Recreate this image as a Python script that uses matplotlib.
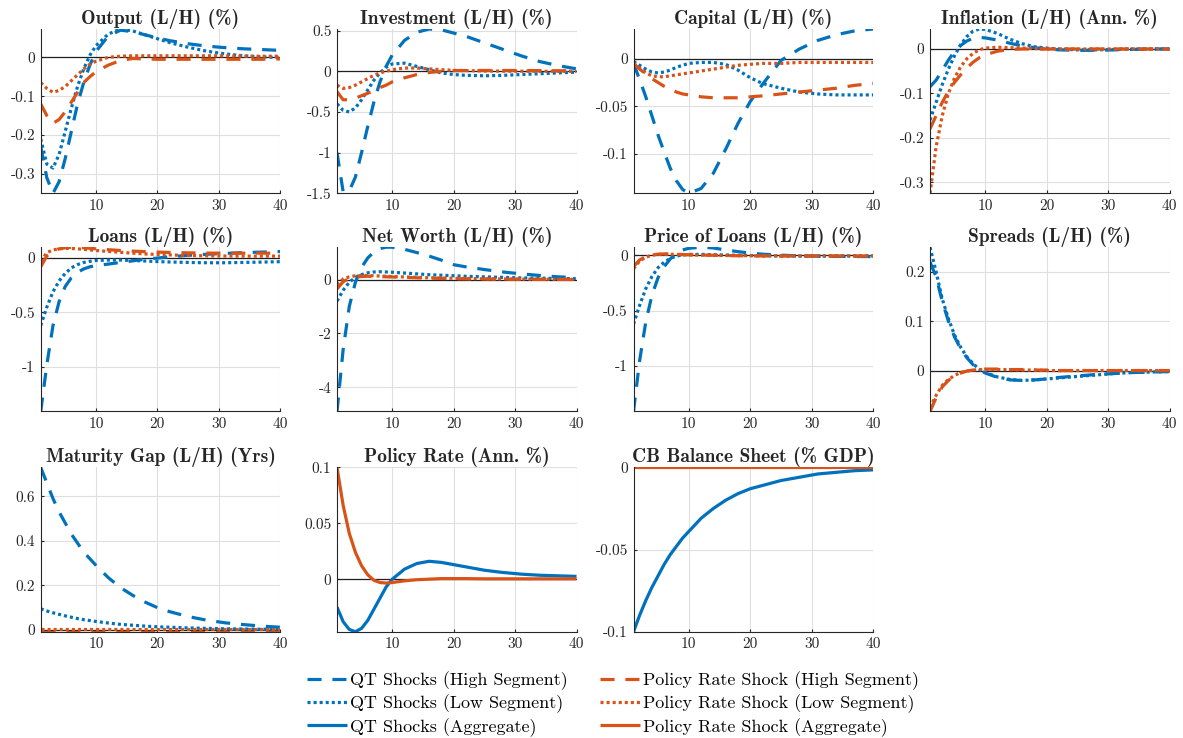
import numpy as np
import matplotlib
matplotlib.use("Agg")
import matplotlib.pyplot as plt
from matplotlib.ticker import FuncFormatter

# quarters after the shock (sampled)
t = [1, 2, 3, 4, 5, 6, 7, 8, 9, 10, 12, 14, 16, 18, 20, 22, 25, 28, 31, 34, 37, 40]

# Output (L/H) (%)
output_qt_high = [-0.23, -0.31, -0.35, -0.32, -0.26, -0.19, -0.12, -0.065, -0.02, 0.015, 0.055, 0.07, 0.066, 0.058, 0.05, 0.043, 0.035, 0.029, 0.025, 0.022, 0.02, 0.018]
output_qt_low = [-0.21, -0.275, -0.285, -0.25, -0.19, -0.13, -0.075, -0.03, 0.005, 0.03, 0.06, 0.073, 0.068, 0.058, 0.048, 0.038, 0.026, 0.016, 0.009, 0.004, 0.001, 0.0]
output_pr_high = [-0.12, -0.15, -0.17, -0.16, -0.14, -0.115, -0.09, -0.065, -0.05, -0.037, -0.02, -0.008, -0.003, -0.004, -0.005, -0.005, -0.005, -0.005, -0.005, -0.005, -0.005, -0.004]
output_pr_low = [-0.065, -0.08, -0.09, -0.085, -0.075, -0.06, -0.045, -0.03, -0.018, -0.01, 0.0, 0.003, 0.004, 0.004, 0.004, 0.004, 0.004, 0.004, 0.004, 0.003, 0.003, 0.003]

# Investment (L/H) (%)
inv_qt_high = [-1.0, -1.48, -1.47, -1.3, -1.0, -0.68, -0.38, -0.13, 0.06, 0.2, 0.38, 0.48, 0.52, 0.51, 0.47, 0.43, 0.35, 0.27, 0.19, 0.12, 0.07, 0.03]
inv_qt_low = [-0.4, -0.48, -0.5, -0.45, -0.35, -0.23, -0.11, -0.02, 0.05, 0.09, 0.1, 0.06, 0.02, -0.02, -0.04, -0.05, -0.055, -0.05, -0.04, -0.03, -0.02, -0.01]
inv_pr_high = [-0.25, -0.35, -0.35, -0.33, -0.3, -0.27, -0.24, -0.2, -0.17, -0.13, -0.08, -0.04, -0.015, 0.0, 0.008, 0.01, 0.01, 0.01, 0.01, 0.008, 0.007, 0.005]
inv_pr_low = [-0.17, -0.21, -0.2, -0.17, -0.13, -0.09, -0.05, -0.02, 0.0, 0.02, 0.04, 0.04, 0.03, 0.02, 0.012, 0.008, 0.004, 0.002, 0.001, 0.0, 0.0, 0.0]

# Capital (L/H) (%)
cap_qt_high = [-0.005, -0.022, -0.04, -0.06, -0.08, -0.098, -0.115, -0.128, -0.137, -0.141, -0.136, -0.12, -0.095, -0.068, -0.045, -0.027, -0.002, 0.01, 0.019, 0.025, 0.029, 0.031]
cap_qt_low = [-0.003, -0.007, -0.011, -0.014, -0.015, -0.014, -0.012, -0.009, -0.007, -0.005, -0.004, -0.004, -0.006, -0.012, -0.02, -0.026, -0.031, -0.035, -0.037, -0.038, -0.038, -0.038]
cap_pr_high = [-0.005, -0.011, -0.016, -0.021, -0.025, -0.029, -0.032, -0.035, -0.037, -0.038, -0.04, -0.041, -0.041, -0.041, -0.04, -0.039, -0.037, -0.035, -0.033, -0.031, -0.028, -0.026]
cap_pr_low = [-0.005, -0.01, -0.015, -0.018, -0.019, -0.019, -0.018, -0.017, -0.016, -0.015, -0.013, -0.011, -0.009, -0.007, -0.006, -0.005, -0.005, -0.004, -0.004, -0.004, -0.004, -0.004]

# Inflation (L/H) (Ann. %)
infl_qt_high = [-0.085, -0.07, -0.048, -0.025, -0.005, 0.008, 0.018, 0.024, 0.026, 0.025, 0.02, 0.013, 0.007, 0.003, 0.0, -0.002, -0.003, -0.003, -0.002, -0.001, 0.0, 0.0]
infl_qt_low = [-0.16, -0.12, -0.08, -0.045, -0.015, 0.01, 0.028, 0.04, 0.045, 0.044, 0.035, 0.022, 0.012, 0.005, 0.002, 0.0, -0.002, -0.002, -0.001, 0.0, 0.0, 0.0]
infl_pr_high = [-0.18, -0.15, -0.12, -0.095, -0.075, -0.058, -0.043, -0.03, -0.02, -0.013, -0.005, -0.001, 0.0, 0.0, 0.0, 0.0, 0.0, 0.0, 0.0, 0.0, 0.0, 0.0]
infl_pr_low = [-0.325, -0.22, -0.15, -0.1, -0.065, -0.04, -0.022, -0.01, -0.002, 0.002, 0.004, 0.003, 0.002, 0.001, 0.0, 0.0, 0.0, 0.0, 0.0, 0.0, 0.0, 0.0]

# Loans (L/H) (%)
loans_qt_high = [-1.41, -0.98, -0.62, -0.4, -0.26, -0.18, -0.13, -0.1, -0.08, -0.07, -0.055, -0.04, -0.025, -0.01, 0.0, 0.012, 0.025, 0.035, 0.043, 0.05, 0.055, 0.06]
loans_qt_low = [-0.62, -0.45, -0.31, -0.21, -0.14, -0.09, -0.06, -0.04, -0.03, -0.022, -0.018, -0.018, -0.022, -0.027, -0.032, -0.036, -0.04, -0.043, -0.043, -0.04, -0.037, -0.033]
loans_pr_high = [-0.08, 0.02, 0.065, 0.085, 0.095, 0.1, 0.098, 0.095, 0.09, 0.085, 0.077, 0.07, 0.064, 0.059, 0.055, 0.052, 0.048, 0.046, 0.045, 0.045, 0.045, 0.045]
loans_pr_low = [-0.03, 0.05, 0.075, 0.085, 0.09, 0.088, 0.085, 0.08, 0.075, 0.07, 0.061, 0.053, 0.045, 0.038, 0.033, 0.029, 0.024, 0.021, 0.019, 0.018, 0.018, 0.018]

# Net Worth (L/H) (%)
nw_qt_high = [-4.9, -2.6, -1.0, -0.1, 0.45, 0.8, 1.02, 1.15, 1.2, 1.2, 1.12, 1.0, 0.87, 0.72, 0.55, 0.47, 0.37, 0.28, 0.21, 0.15, 0.1, 0.07]
nw_qt_low = [-0.8, -0.4, -0.1, 0.08, 0.18, 0.25, 0.28, 0.29, 0.28, 0.27, 0.24, 0.21, 0.18, 0.16, 0.14, 0.12, 0.1, 0.08, 0.06, 0.05, 0.04, 0.03]
nw_pr_high = [-0.35, -0.08, 0.04, 0.09, 0.11, 0.12, 0.12, 0.11, 0.1, 0.095, 0.08, 0.065, 0.05, 0.04, 0.03, 0.025, 0.018, 0.012, 0.008, 0.005, 0.003, 0.002]
nw_pr_low = [-0.2, 0.02, 0.1, 0.14, 0.15, 0.15, 0.14, 0.13, 0.12, 0.11, 0.095, 0.08, 0.066, 0.055, 0.045, 0.038, 0.03, 0.022, 0.016, 0.012, 0.009, 0.006]

# Price of Loans (L/H) (%)
pl_qt_high = [-1.41, -0.95, -0.6, -0.36, -0.2, -0.1, -0.03, 0.02, 0.05, 0.065, 0.075, 0.068, 0.05, 0.035, 0.022, 0.012, 0.003, -0.003, -0.006, -0.008, -0.009, -0.01]
pl_qt_low = [-0.62, -0.45, -0.3, -0.19, -0.11, -0.06, -0.025, -0.005, 0.005, 0.01, 0.01, 0.007, 0.004, 0.002, 0.0, -0.002, -0.004, -0.005, -0.005, -0.005, -0.005, -0.005]
pl_pr_high = [-0.1, -0.04, -0.01, 0.005, 0.012, 0.014, 0.013, 0.011, 0.009, 0.007, 0.004, 0.002, 0.0, -0.002, -0.003, -0.004, -0.005, -0.005, -0.005, -0.005, -0.005, -0.005]
pl_pr_low = [-0.12, -0.05, -0.015, 0.003, 0.01, 0.012, 0.011, 0.01, 0.008, 0.006, 0.003, 0.001, 0.0, -0.001, -0.002, -0.003, -0.003, -0.003, -0.003, -0.003, -0.003, -0.003]

# Spreads (L/H) (%)
spr_qt_high = [0.22, 0.19, 0.14, 0.1, 0.068, 0.044, 0.026, 0.012, 0.002, -0.005, -0.014, -0.019, -0.02, -0.019, -0.017, -0.014, -0.011, -0.008, -0.006, -0.004, -0.003, -0.002]
spr_qt_low = [0.25, 0.2, 0.145, 0.105, 0.072, 0.047, 0.028, 0.014, 0.003, -0.004, -0.013, -0.018, -0.02, -0.019, -0.017, -0.015, -0.012, -0.009, -0.006, -0.004, -0.003, -0.002]
spr_pr_high = [-0.083, -0.055, -0.033, -0.02, -0.011, -0.005, -0.001, 0.001, 0.002, 0.003, 0.003, 0.002, 0.002, 0.001, 0.001, 0.0, 0.0, 0.0, 0.0, 0.0, 0.0, 0.0]
spr_pr_low = [-0.075, -0.05, -0.03, -0.018, -0.01, -0.004, -0.001, 0.001, 0.002, 0.002, 0.002, 0.002, 0.001, 0.001, 0.0, 0.0, 0.0, 0.0, 0.0, 0.0, 0.0, 0.0]

# Maturity Gap (L/H) (Yrs)
mg_qt_high = [0.73, 0.66, 0.59, 0.53, 0.48, 0.43, 0.39, 0.35, 0.32, 0.29, 0.235, 0.19, 0.155, 0.125, 0.1, 0.082, 0.06, 0.044, 0.032, 0.024, 0.017, 0.012]
mg_qt_low = [0.095, 0.085, 0.077, 0.07, 0.063, 0.057, 0.051, 0.046, 0.042, 0.038, 0.031, 0.025, 0.021, 0.017, 0.014, 0.012, 0.009, 0.007, 0.005, 0.004, 0.003, 0.003]
mg_pr_high = [-0.008, -0.008, -0.008, -0.008, -0.008, -0.008, -0.008, -0.008, -0.008, -0.008, -0.008, -0.008, -0.008, -0.008, -0.008, -0.008, -0.008, -0.008, -0.008, -0.008, -0.008, -0.008]
mg_pr_low = [0.006, 0.006, 0.006, 0.006, 0.006, 0.006, 0.006, 0.006, 0.006, 0.006, 0.006, 0.006, 0.006, 0.006, 0.006, 0.006, 0.006, 0.006, 0.006, 0.006, 0.006, 0.006]

# Policy Rate (Ann. %)
pol_qt_agg = [-0.025, -0.038, -0.045, -0.047, -0.044, -0.037, -0.027, -0.017, -0.007, 0.0, 0.009, 0.014, 0.016, 0.015, 0.013, 0.011, 0.008, 0.006, 0.0045, 0.0035, 0.003, 0.0025]
pol_pr_agg = [0.1, 0.066, 0.041, 0.024, 0.012, 0.004, -0.001, -0.003, -0.0035, -0.003, -0.0015, -0.0005, 0.0, 0.0005, 0.0005, 0.0005, 0.0003, 0.0003, 0.0003, 0.0003, 0.0003, 0.0003]

# CB Balance Sheet (% GDP)
cb_qt_agg = [-0.1, -0.09, -0.081, -0.073, -0.066, -0.059, -0.053, -0.048, -0.043, -0.039, -0.031, -0.025, -0.02, -0.016, -0.013, -0.011, -0.008, -0.006, -0.004, -0.003, -0.002, -0.0015]
cb_pr_agg = [0.0] * len(t)

titles = ["Output (L/H) (%)", "Investment (L/H) (%)", "Capital (L/H) (%)", "Inflation (L/H) (Ann. %)",
          "Loans (L/H) (%)", "Net Worth (L/H) (%)", "Price of Loans (L/H) (%)", "Spreads (L/H) (%)",
          "Maturity Gap (L/H) (Yrs)", "Policy Rate (Ann. %)", "CB Balance Sheet (% GDP)"]

yticks = [[-0.3, -0.2, -0.1, 0], [-1.5, -1, -0.5, 0, 0.5], [-0.1, -0.05, 0], [-0.3, -0.2, -0.1, 0],
          [-1, -0.5, 0], [-4, -2, 0], [-1, -0.5, 0], [0, 0.1, 0.2],
          [0, 0.2, 0.4, 0.6], [0, 0.05, 0.1], [-0.1, -0.05, 0]]

# (qt_high, qt_low, qt_agg, pr_high, pr_low, pr_agg) per panel; None = not drawn
series = [
    (output_qt_high, output_qt_low, None, output_pr_high, output_pr_low, None),
    (inv_qt_high, inv_qt_low, None, inv_pr_high, inv_pr_low, None),
    (cap_qt_high, cap_qt_low, None, cap_pr_high, cap_pr_low, None),
    (infl_qt_high, infl_qt_low, None, infl_pr_high, infl_pr_low, None),
    (loans_qt_high, loans_qt_low, None, loans_pr_high, loans_pr_low, None),
    (nw_qt_high, nw_qt_low, None, nw_pr_high, nw_pr_low, None),
    (pl_qt_high, pl_qt_low, None, pl_pr_high, pl_pr_low, None),
    (spr_qt_high, spr_qt_low, None, spr_pr_high, spr_pr_low, None),
    (mg_qt_high, mg_qt_low, None, mg_pr_high, mg_pr_low, None),
    (None, None, pol_qt_agg, None, None, pol_pr_agg),
    (None, None, cb_qt_agg, None, None, cb_pr_agg),
]

legend_labels = ["QT Shocks (High Segment)", "QT Shocks (Low Segment)", "QT Shocks (Aggregate)",
                 "Policy Rate Shock (High Segment)", "Policy Rate Shock (Low Segment)",
                 "Policy Rate Shock (Aggregate)"]

# MATLAB default colours
blue = "#0072BD"
orange = "#D95319"
lw = 2.3
dash = (4.4, 3.4)
dot = (0.95, 0.95)
styles = [(blue, dash), (blue, dot), (blue, None), (orange, dash), (orange, dot), (orange, None)]

plt.rcParams["font.family"] = "cmr10"
plt.rcParams["axes.unicode_minus"] = False

fig = plt.figure(figsize=(11.83, 7.38), dpi=100)

W, H = 1183.0, 738.0
col_left = [40.7, 337.0, 633.5, 930.0]
row_bottom = [193.3, 411.5, 631.7]
ax_w, ax_h = 239.5, 164.3

handles = [None] * 6
for k in range(11):
    r, c = divmod(k, 4)
    ax = fig.add_axes([col_left[c] / W, 1 - row_bottom[r] / H, ax_w / W, ax_h / H])
    ax.grid(True, color="#DFDFDF", lw=0.8)
    ax.set_axisbelow(True)
    ax.axhline(0, color="#202020", lw=0.9, zorder=1.5)
    vals = []
    for j, s in enumerate(series[k]):
        if s is None:
            continue
        col, ds = styles[j]
        if ds is None:
            ln, = ax.plot(t, s, color=col, lw=lw, solid_capstyle="butt")
        else:
            ln, = ax.plot(t, s, color=col, lw=lw, dashes=ds, dash_capstyle="butt")
        if handles[j] is None:
            handles[j] = ln
        vals += list(s)
    ax.set_xlim(1, 40)
    ax.set_ylim(min(vals), max(vals))
    ax.set_xticks([10, 20, 30, 40])
    ax.set_yticks(yticks[k])
    ax.yaxis.set_major_formatter(FuncFormatter(lambda v, p: f"{v:g}"))
    for sp in ["top", "right"]:
        ax.spines[sp].set_visible(False)
    for sp in ["left", "bottom"]:
        ax.spines[sp].set_color("#262626")
        ax.spines[sp].set_linewidth(0.8)
    ax.tick_params(direction="in", length=2.5, labelsize=11, colors="#262626", pad=4)
    ax.set_title(titles[k], fontfamily="cmb10", fontsize=14, pad=2.5, color="#262626")

fig.legend(handles, legend_labels, loc="center", ncol=2, frameon=False,
           bbox_to_anchor=(613.0 / W, 1 - 704 / H), fontsize=13,
           handlelength=2.2, handletextpad=0.18, columnspacing=1.8, labelspacing=0.25)

fig.savefig("out.png", dpi=100)
